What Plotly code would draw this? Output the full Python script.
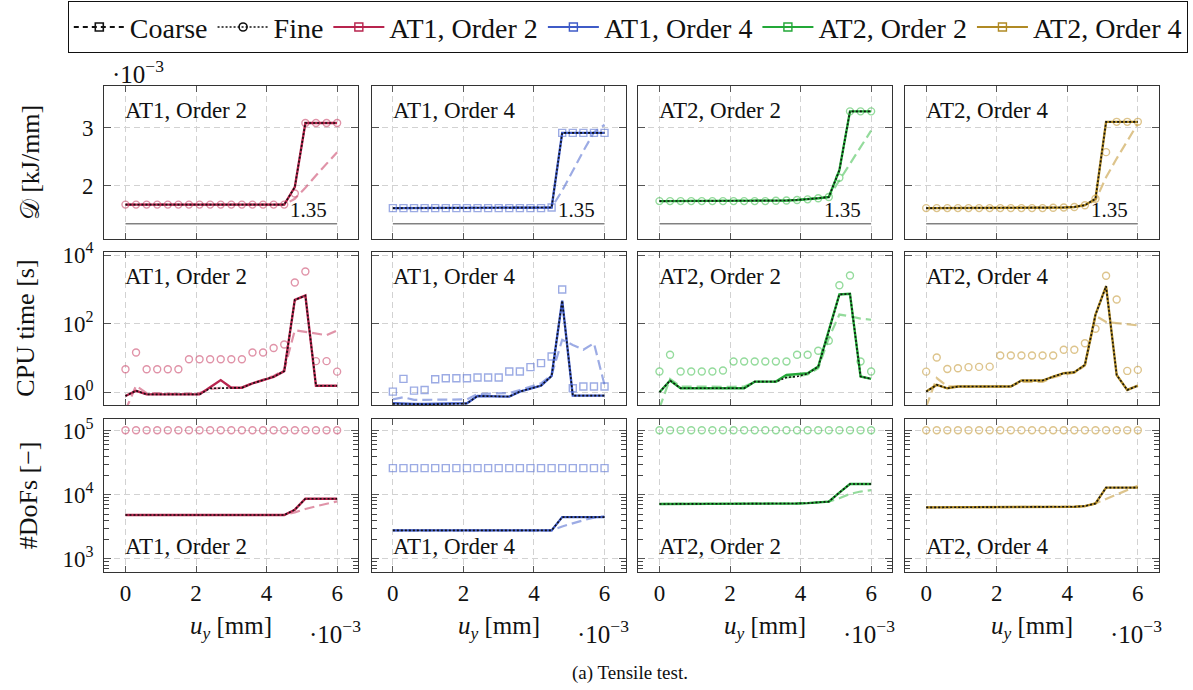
import plotly.graph_objects as go

# ---------------- data (x in 1e-3 mm, D in 1e-3 kJ/mm) ----------------
uy = [0.0, 0.3, 0.6, 0.9, 1.2, 1.5, 1.8, 2.1, 2.4, 2.7, 3.0,
      3.3, 3.6, 3.9, 4.2, 4.5, 4.8, 5.1, 5.4, 5.7, 6.0]

labels = ["AT1, Order 2", "AT1, Order 4", "AT2, Order 2", "AT2, Order 4"]
ref_level = 1.35

# Dissipated energy D  (x 1e-3 kJ/mm)
D_at1o2_adapt = [1.68, 1.68, 1.68, 1.68, 1.68, 1.68, 1.68, 1.68, 1.68, 1.68, 1.68, 1.68, 1.68, 1.68, 1.68, 1.68, 1.98, 3.08, 3.08, 3.08, 3.08]
D_at1o2_fine = [1.68, 1.68, 1.68, 1.68, 1.68, 1.68, 1.68, 1.68, 1.68, 1.68, 1.68, 1.68, 1.68, 1.68, 1.68, 1.68, 1.87, 3.08, 3.08, 3.08, 3.08]
D_at1o2_coarse = [1.68, 1.68, 1.68, 1.68, 1.68, 1.68, 1.68, 1.68, 1.68, 1.68, 1.68, 1.68, 1.68, 1.68, 1.68, 1.68, 1.78, 1.97, 2.18, 2.38, 2.58]

D_at1o4_adapt = [1.62, 1.62, 1.62, 1.62, 1.62, 1.62, 1.62, 1.62, 1.62, 1.62, 1.62, 1.62, 1.62, 1.62, 1.62, 1.63, 2.91, 2.91, 2.91, 2.91, 2.91]
D_at1o4_fine = [1.62, 1.62, 1.62, 1.62, 1.62, 1.62, 1.62, 1.62, 1.62, 1.62, 1.62, 1.62, 1.62, 1.62, 1.62, 1.63, 2.91, 2.91, 2.91, 2.91, 2.91]
D_at1o4_coarse = [1.62, 1.62, 1.62, 1.62, 1.62, 1.62, 1.62, 1.62, 1.62, 1.62, 1.62, 1.62, 1.62, 1.62, 1.62, 1.63, 1.92, 2.27, 2.60, 2.92, 3.05]

D_at2o2_adapt = [1.74, 1.74, 1.74, 1.74, 1.74, 1.74, 1.74, 1.74, 1.74, 1.74, 1.74, 1.745, 1.75, 1.76, 1.77, 1.79, 1.81, 2.27, 3.28, 3.28, 3.28]
D_at2o2_fine = [1.74, 1.74, 1.74, 1.74, 1.74, 1.74, 1.74, 1.74, 1.74, 1.74, 1.74, 1.745, 1.75, 1.76, 1.77, 1.79, 1.81, 2.14, 3.28, 3.28, 3.28]
D_at2o2_coarse = [1.74, 1.74, 1.74, 1.74, 1.74, 1.74, 1.74, 1.74, 1.74, 1.74, 1.74, 1.745, 1.75, 1.76, 1.77, 1.79, 1.81, 2.10, 2.38, 2.67, 2.95]

D_at2o4_adapt = [1.62, 1.62, 1.62, 1.62, 1.62, 1.62, 1.62, 1.62, 1.62, 1.62, 1.62, 1.62, 1.625, 1.63, 1.64, 1.67, 1.78, 3.10, 3.10, 3.10, 3.10]
D_at2o4_fine = [1.62, 1.62, 1.62, 1.62, 1.62, 1.62, 1.62, 1.62, 1.62, 1.62, 1.62, 1.62, 1.625, 1.63, 1.64, 1.67, 1.78, 2.58, 3.10, 3.10, 3.10]
D_at2o4_coarse = [1.62, 1.62, 1.62, 1.62, 1.62, 1.62, 1.62, 1.62, 1.62, 1.62, 1.62, 1.62, 1.625, 1.63, 1.64, 1.67, 1.75, 2.15, 2.47, 2.78, 3.07]

# CPU time [s]
CPU_at1o2_adapt = [0.78, 1.11, 0.87, 0.87, 0.87, 0.87, 0.87, 0.87, 1.40, 2.27, 1.36, 1.36, 1.82, 2.30, 2.83, 4.14, 495, 660, 1.55, 1.55, 1.55]
CPU_at1o2_dot = [0.78, 1.11, 0.87, 0.87, 0.87, 0.87, 0.87, 0.87, 1.30, 1.30, 1.30, 1.36, 1.82, 2.30, 2.83, 4.14, 495, 660, 1.55, 1.55, 1.55]
CPU_at1o2_fine = [4.7, 14.4, 4.7, 4.7, 4.7, 4.7, 9.2, 9.2, 9.2, 9.2, 9.2, 9.2, 14.4, 14.4, 19.6, 24.6, 1580, 3300, 8.1, 8.1, 4.0]
CPU_at1o2_coarse = [0.30, 1.55, 0.95, 0.92, 0.90, 0.90, 0.92, 0.95, 1.25, 1.35, 1.35, 1.40, 1.85, 2.40, 3.00, 4.50, 64, 58, 51, 46, 64]

CPU_at1o4_adapt = [0.48, 0.46, 0.46, 0.46, 0.46, 0.46, 0.46, 0.48, 0.78, 0.78, 0.75, 0.75, 1.05, 1.30, 1.57, 3.0, 470, 0.80, 0.80, 0.80, 0.80]
CPU_at1o4_dot = [0.46, 0.45, 0.45, 0.45, 0.45, 0.45, 0.45, 0.47, 0.78, 0.78, 0.75, 0.75, 1.05, 1.30, 1.57, 3.0, 470, 0.80, 0.80, 0.80, 0.80]
CPU_at1o4_fine = [1.05, 2.46, 1.12, 1.17, 2.40, 2.57, 2.57, 2.57, 2.69, 2.69, 2.69, 4.03, 4.03, 5.4, 7.07, 11.0, 990, 1.31, 1.47, 1.47, 1.47]
CPU_at1o4_coarse = [0.62, 0.72, 0.60, 0.60, 0.60, 0.60, 0.60, 0.62, 0.90, 0.93, 0.93, 0.95, 1.17, 1.47, 1.83, 3.2, 34, 24, 17.4, 27, 1.64]

CPU_at2o2_adapt = [1.0, 2.2, 1.31, 1.31, 1.31, 1.31, 1.31, 1.31, 1.31, 2.05, 2.05, 2.05, 3.2, 3.36, 3.6, 5.6, 60, 710, 740, 2.9, 2.46]
CPU_at2o2_dot = [1.0, 2.2, 1.31, 1.31, 1.31, 1.31, 1.31, 1.31, 1.31, 2.05, 2.05, 2.05, 2.70, 2.90, 3.5, 5.6, 60, 710, 740, 2.9, 2.46]
CPU_at2o2_fine = [4.03, 12.4, 4.03, 4.03, 4.03, 4.03, 4.3, 7.9, 7.9, 7.9, 7.9, 7.9, 7.9, 12.4, 12.4, 16.2, 31.8, 1320, 2540, 7.9, 4.03]
CPU_at2o2_coarse = [0.35, 2.46, 1.47, 1.45, 1.45, 1.45, 1.45, 1.45, 1.47, 2.0, 2.0, 2.0, 2.7, 2.9, 3.3, 5.0, 38, 184, 164, 140, 130]

CPU_at2o4_adapt = [1.05, 1.64, 1.31, 1.47, 1.47, 1.47, 1.47, 1.47, 1.47, 2.2, 2.2, 2.2, 2.87, 3.6, 3.85, 6.3, 183, 1240, 3.2, 1.17, 1.57]
CPU_at2o4_dot = [1.05, 1.64, 1.31, 1.47, 1.47, 1.47, 1.47, 1.47, 1.47, 2.2, 2.2, 2.2, 2.87, 3.6, 3.85, 6.3, 183, 1240, 3.2, 1.17, 1.57]
CPU_at2o4_fine = [4.0, 10.3, 4.8, 5.0, 5.4, 5.5, 5.6, 11.8, 11.8, 11.8, 11.8, 11.8, 11.8, 17.4, 17.4, 27, 71, 2500, 505, 4.2, 4.5]
CPU_at2o4_coarse = [0.38, 2.6, 1.5, 1.45, 1.45, 1.45, 1.45, 1.45, 1.5, 2.0, 2.0, 2.0, 2.7, 3.3, 3.7, 6.0, 170, 112, 104, 97, 89]

# Number of degrees of freedom
DOF_at1o2_adapt = [4830, 4830, 4830, 4830, 4830, 4830, 4830, 4830, 4830, 4830, 4830, 4830, 4830, 4830, 4830, 4830, 5840, 8660, 8660, 8660, 8660]
DOF_at1o2_fine = [101000, 101000, 101000, 101000, 101000, 101000, 101000, 101000, 101000, 101000, 101000, 101000, 101000, 101000, 101000, 101000, 101000, 101000, 101000, 101000, 101000]
DOF_at1o2_coarse = [4830, 4830, 4830, 4830, 4830, 4830, 4830, 4830, 4830, 4830, 4830, 4830, 4830, 4830, 4830, 4830, 5300, 6000, 6600, 7170, 7870]

DOF_at1o4_adapt = [2780, 2780, 2780, 2780, 2780, 2780, 2780, 2780, 2780, 2780, 2780, 2780, 2780, 2780, 2780, 2780, 4480, 4480, 4480, 4480, 4480]
DOF_at1o4_fine = [26000, 26000, 26000, 26000, 26000, 26000, 26000, 26000, 26000, 26000, 26000, 26000, 26000, 26000, 26000, 26000, 26000, 26000, 26000, 26000, 26000]
DOF_at1o4_coarse = [2780, 2780, 2780, 2780, 2780, 2780, 2780, 2780, 2780, 2780, 2780, 2780, 2780, 2780, 2780, 2780, 3200, 3600, 4000, 4400, 4650]

DOF_at2o2_adapt = [7170, 7170, 7170, 7170, 7170, 7170, 7170, 7170, 7170, 7170, 7170, 7170, 7250, 7300, 7400, 7550, 7800, 10800, 14700, 14700, 14700]
DOF_at2o2_fine = [101000, 101000, 101000, 101000, 101000, 101000, 101000, 101000, 101000, 101000, 101000, 101000, 101000, 101000, 101000, 101000, 101000, 101000, 101000, 101000, 101000]
DOF_at2o2_coarse = [7170, 7170, 7170, 7170, 7170, 7170, 7170, 7170, 7170, 7170, 7170, 7170, 7250, 7300, 7400, 7550, 7800, 8800, 10300, 11200, 11800]

DOF_at2o4_adapt = [6340, 6340, 6340, 6340, 6340, 6340, 6340, 6340, 6340, 6340, 6340, 6340, 6340, 6400, 6500, 6650, 7300, 12900, 12900, 12900, 12900]
DOF_at2o4_fine = [101000, 101000, 101000, 101000, 101000, 101000, 101000, 101000, 101000, 101000, 101000, 101000, 101000, 101000, 101000, 101000, 101000, 101000, 101000, 101000, 101000]
DOF_at2o4_coarse = [6340, 6340, 6340, 6340, 6340, 6340, 6340, 6340, 6340, 6340, 6340, 6340, 6340, 6400, 6500, 6650, 7300, 8600, 10100, 11800, 13800]

rows_data = [
    [(D_at1o2_adapt, D_at1o2_adapt, D_at1o2_fine, D_at1o2_coarse),
     (D_at1o4_adapt, D_at1o4_adapt, D_at1o4_fine, D_at1o4_coarse),
     (D_at2o2_adapt, D_at2o2_adapt, D_at2o2_fine, D_at2o2_coarse),
     (D_at2o4_adapt, D_at2o4_adapt, D_at2o4_fine, D_at2o4_coarse)],
    [(CPU_at1o2_adapt, CPU_at1o2_dot, CPU_at1o2_fine, CPU_at1o2_coarse),
     (CPU_at1o4_adapt, CPU_at1o4_dot, CPU_at1o4_fine, CPU_at1o4_coarse),
     (CPU_at2o2_adapt, CPU_at2o2_dot, CPU_at2o2_fine, CPU_at2o2_coarse),
     (CPU_at2o4_adapt, CPU_at2o4_dot, CPU_at2o4_fine, CPU_at2o4_coarse)],
    [(DOF_at1o2_adapt, DOF_at1o2_adapt, DOF_at1o2_fine, DOF_at1o2_coarse),
     (DOF_at1o4_adapt, DOF_at1o4_adapt, DOF_at1o4_fine, DOF_at1o4_coarse),
     (DOF_at2o2_adapt, DOF_at2o2_adapt, DOF_at2o2_fine, DOF_at2o2_coarse),
     (DOF_at2o4_adapt, DOF_at2o4_adapt, DOF_at2o4_fine, DOF_at2o4_coarse)],
]

# ---------------- style ----------------
FONT = "Liberation Serif"
colors = ["#B8244E", "#3F5BC7", "#23A838", "#B08A24"]
light = ["rgba(205,80,115,0.62)", "rgba(90,115,210,0.60)", "rgba(60,190,75,0.55)", "rgba(200,160,70,0.62)"]
fine_sym = ["circle-open", "square-open", "circle-open", "circle-open"]

W, H = 1193, 690
col_px = [(104.3, 358.3), (371.7, 625.7), (638.3, 892.3), (905.0, 1159.0)]
row_px = [(85.7, 239.0), (252.3, 405.0), (419.0, 571.7)]
yranges = [[1.09, 3.72], [-0.37, 4.08], [2.80, 5.18]]
ytypes = ["linear", "log", "log"]
ytickvals = [[2, 3], [1, 100, 10000], [1000, 10000, 100000]]
yticktext = [["2", "3"], ["10<sup>0</sup>", "10<sup>2</sup>", "10<sup>4</sup>"],
             ["10<sup>3</sup>", "10<sup>4</sup>", "10<sup>5</sup>"]]
minor_vals = [m * 10 ** e for e in (2, 3, 4, 5) for m in range(2, 10)]

fig = go.Figure()
layout = dict(width=W, height=H, template="none",
              margin=dict(l=0, r=0, t=0, b=0, pad=0, autoexpand=False),
              paper_bgcolor="white", plot_bgcolor="white", showlegend=True,
              font=dict(family=FONT, color="#111"))
annotations = []

AX_LINE = "#333333"
GRID = "#d2d2d2"
TICKFONT = dict(family=FONT, size=23, color="#111")

for r in range(3):
    for c in range(4):
        k = r * 4 + c + 1
        xn = "x" if k == 1 else f"x{k}"
        yn = "y" if k == 1 else f"y{k}"
        xkey = "xaxis" if k == 1 else f"xaxis{k}"
        ykey = "yaxis" if k == 1 else f"yaxis{k}"
        x0, x1 = col_px[c]
        y0, y1 = row_px[r]
        layout[xkey] = dict(
            domain=[x0 / W, x1 / W], anchor=yn, range=[-0.6, 6.6], automargin=False,
            tickmode="array", tickvals=[0, 2, 4, 6], ticktext=["0", "2", "4", "6"],
            showticklabels=(r == 2), ticks="inside", ticklen=6, tickwidth=1.2,
            tickcolor="#555", showline=True, linecolor=AX_LINE, linewidth=1.3,
            mirror="ticks", showgrid=True, gridcolor=GRID, griddash="6px,4px",
            gridwidth=1, zeroline=False, tickfont=TICKFONT,
            ticklabelstandoff=1)
        ycfg = dict(
            domain=[1 - y1 / H, 1 - y0 / H], anchor=xn, type=ytypes[r], range=yranges[r],
            automargin=False,
            tickmode="array", tickvals=ytickvals[r], ticktext=yticktext[r],
            showticklabels=(c == 0), ticks="inside", ticklen=7, tickwidth=1.2,
            tickcolor="#555", showline=True, linecolor=AX_LINE, linewidth=1.3,
            mirror="ticks", showgrid=True, gridcolor=GRID, griddash="6px,4px",
            gridwidth=1, zeroline=False, tickfont=TICKFONT,
            ticklabelstandoff=5)
        if r == 2:
            ycfg["minor"] = dict(tickmode="linear", dtick="D1", ticks="inside",
                                 ticklen=5, tickwidth=1, tickcolor="#444", showgrid=False)
        layout[ykey] = ycfg

        if r == 2:
            # overlay axes carrying the logarithmic minor ticks on left and right sides
            for j, side in enumerate(("left", "right")):
                km = 13 + 2 * c + j
                ymn = f"y{km}"
                layout[f"yaxis{km}"] = dict(
                    domain=[1 - y1 / H, 1 - y0 / H], anchor=xn, overlaying=yn, side=side,
                    type="log", range=yranges[r], automargin=False, tickmode="array",
                    tickvals=minor_vals, showticklabels=False, ticks="inside", ticklen=5,
                    tickwidth=1, tickcolor="#444", showline=False, showgrid=False,
                    zeroline=False)
                fig.add_trace(go.Scatter(x=[uy[0]], y=[None], xaxis=xn, yaxis=ymn, mode="lines",
                                         showlegend=False, hoverinfo="skip"))

        adapt, dot, fine, coarse = rows_data[r][c]
        fig.add_trace(go.Scatter(x=uy, y=coarse, xaxis=xn, yaxis=yn, mode="lines",
                                 line=dict(color=light[c], width=2.2, dash="10px,5px"),
                                 showlegend=False, cliponaxis=True))
        fig.add_trace(go.Scatter(x=uy, y=fine, xaxis=xn, yaxis=yn, mode="markers",
                                 marker=dict(symbol=fine_sym[c], size=7, color=light[c],
                                             line=dict(width=1.4, color=light[c])),
                                 showlegend=False))
        fig.add_trace(go.Scatter(x=uy, y=adapt, xaxis=xn, yaxis=yn, mode="lines",
                                 line=dict(color=colors[c], width=2.4), showlegend=False))
        fig.add_trace(go.Scatter(x=uy, y=dot, xaxis=xn, yaxis=yn, mode="lines",
                                 line=dict(color="#111", width=1.6, dash="2px,2px"),
                                 showlegend=False))
        if r == 0:
            fig.add_trace(go.Scatter(x=[uy[0], uy[-1]], y=[ref_level, ref_level],
                                     xaxis=xn, yaxis=yn, mode="lines",
                                     line=dict(color="#444", width=1), showlegend=False))
            annotations.append(dict(x=5.78, y=ref_level, xref=xn, yref=yn, text=f"{ref_level:.2f}",
                                    showarrow=False, xanchor="right", yanchor="bottom", yshift=0,
                                    font=dict(family=FONT, size=21, color="#111")))
        # panel label
        annotations.append(dict(x=0, xref=xn, y=(0.84 if r < 2 else 0.165), yref=f"{yn} domain",
                                text=labels[c], showarrow=False, xanchor="left", yanchor="middle",
                                xshift=-2, font=dict(family=FONT, size=23, color="#111")))
        if r == 2:
            annotations.append(dict(x=3, xref=xn, y=1 - 627 / H, yref="paper",
                                    text="<i>u</i><sub><i>y</i></sub> [mm]", showarrow=False,
                                    xanchor="center", yanchor="middle",
                                    font=dict(family=FONT, size=25, color="#111")))
            annotations.append(dict(x=(x1 + 5) / W, xref="paper", y=1 - 632 / H, yref="paper",
                                    text="·10<sup>−3</sup>", showarrow=False,
                                    xanchor="right", yanchor="middle",
                                    font=dict(family=FONT, size=25, color="#111")))

# top-left exponent
annotations.append(dict(x=110 / W, xref="paper", y=1 - 72 / H, yref="paper",
                        text="·10<sup>−3</sup>", showarrow=False, xanchor="left", yanchor="middle",
                        font=dict(family=FONT, size=25, color="#111")))
# y titles
ytitles = ["𝒟 [kJ/mm]", "CPU time [s]", "#DoFs [−]"]
ytitle_x = [30, 26, 28]
for r in range(3):
    yc = (row_px[r][0] + row_px[r][1]) / 2
    annotations.append(dict(x=ytitle_x[r] / W, xref="paper", y=1 - yc / H, yref="paper",
                            text=ytitles[r], showarrow=False, textangle=-90,
                            xanchor="center", yanchor="middle",
                            font=dict(family=FONT, size=26, color="#111")))
# caption
annotations.append(dict(x=630 / W, xref="paper", y=1 - 673 / H, yref="paper",
                        text="(a) Tensile test.", showarrow=False, xanchor="center",
                        yanchor="middle", font=dict(family=FONT, size=19, color="#111")))

# legend entries
fig.add_trace(go.Scatter(x=[None], y=[None], mode="lines+markers", name="Coarse",
                         line=dict(color="#111", width=1.8, dash="5px,4px"),
                         marker=dict(symbol="square-open", size=8, color="#111", line=dict(width=1.6))))
fig.add_trace(go.Scatter(x=[None], y=[None], mode="lines+markers", name="Fine",
                         line=dict(color="#111", width=1.6, dash="2px,2px"),
                         marker=dict(symbol="circle-open", size=8, color="#111", line=dict(width=1.6))))
for c in range(4):
    fig.add_trace(go.Scatter(x=[None], y=[None], mode="lines+markers", name=labels[c],
                             line=dict(color=colors[c], width=2),
                             marker=dict(symbol="square-open", size=8, color=colors[c],
                                         line=dict(width=1.4))))

layout["legend"] = dict(orientation="h", x=628 / W, xanchor="center", y=1 - 1 / H, yanchor="top",
                        bordercolor="#111", borderwidth=1.3, bgcolor="white",
                        font=dict(family=FONT, size=28, color="#111"),
                        itemwidth=51, tracegroupgap=0)
layout["annotations"] = annotations
fig.update_layout(**layout)
fig.write_html("out.html")
